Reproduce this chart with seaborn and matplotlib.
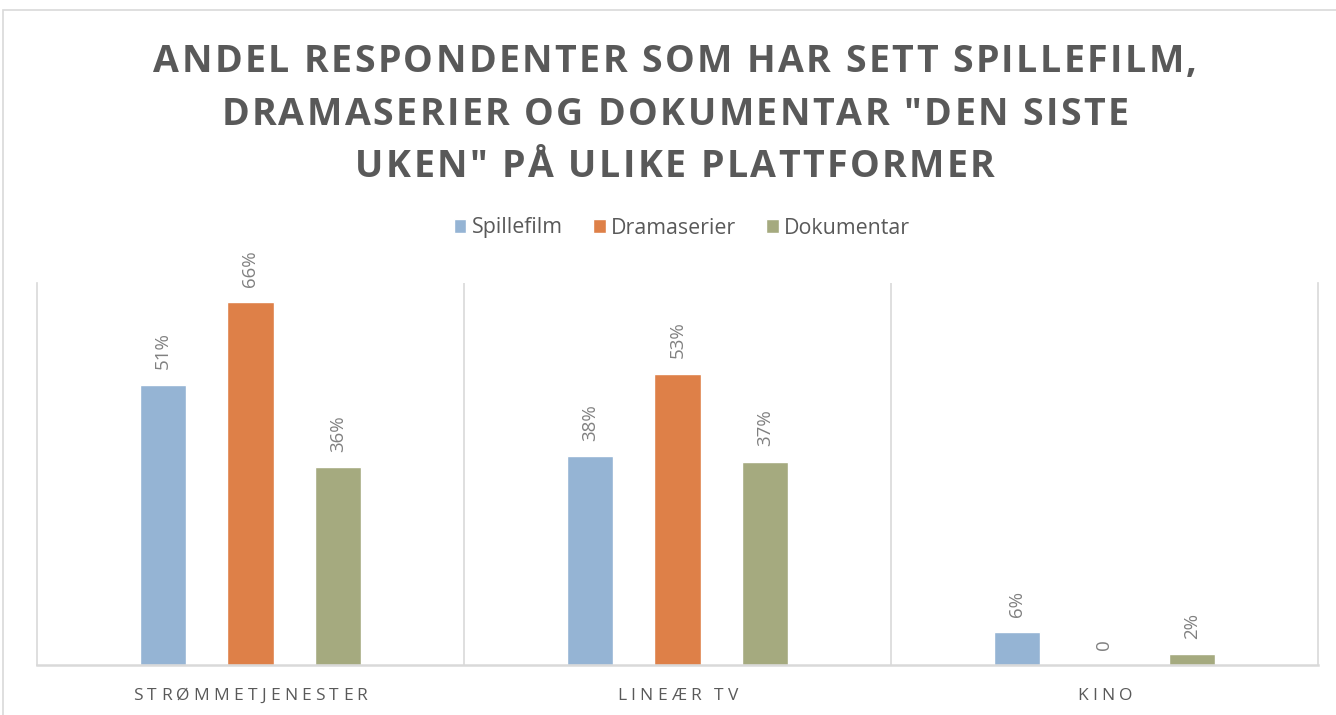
import matplotlib
matplotlib.use("Agg")
import matplotlib.pyplot as plt
import seaborn as sns
import pandas as pd
from matplotlib.patches import Rectangle
from matplotlib.font_manager import FontProperties

platforms = ["STRØMMETJENESTER", "LINEÆR TV", "KINO"]
series = ["Spillefilm", "Dramaserier", "Dokumentar"]
spillefilm = [0.51, 0.38, 0.06]
dramaserier = [0.66, 0.53, 0.0]
dokumentar = [0.36, 0.37, 0.02]
title_lines = ["ANDEL RESPONDENTER SOM HAR SETT SPILLEFILM,",
               "DRAMASERIER OG DOKUMENTAR \"DEN SISTE",
               "UKEN\" PÅ ULIKE PLATTFORMER"]
colors = ["#95B4D4", "#DE8048", "#A5AA7F"]

rows = []
for s, vals in zip(series, [spillefilm, dramaserier, dokumentar]):
    for p, v in zip(platforms, vals):
        rows.append({"platform": p, "serie": s, "value": v})
df = pd.DataFrame(rows)

sns.set_theme(style="white")
FAM = ['Open Sans', 'DejaVu Sans']
plt.rcParams['font.family'] = FAM

W, H = 1336, 715
fig = plt.figure(figsize=(W / 100, H / 100), dpi=100)
ax = fig.add_axes([37/W, 50/H, (1318-37)/W, (665-283)/H])

sns.barplot(data=df, x="platform", y="value", hue="serie", order=platforms,
            hue_order=series, palette=colors, width=0.615, gap=0.47,
            saturation=1, ax=ax, legend=True)

ax.set_ylim(0, 0.695)
ax.set_xlim(-0.5, 2.5)
ax.set_yticks([])
ax.set_xlabel("")
ax.set_ylabel("")
grid_c = "#D9D9D9"
ax.spines["top"].set_visible(False)
for sp in ["left", "right", "bottom"]:
    ax.spines[sp].set_color(grid_c)
    ax.spines[sp].set_linewidth(1.2)
ax.spines["bottom"].set_linewidth(1.8)
for xv in [0.5, 1.5]:
    ax.axvline(xv, color=grid_c, lw=1.2, zorder=0)

ax.set_xticks(range(len(platforms)))
ax.set_xticklabels([])
ax.tick_params(axis="x", length=0)

for cont, vals in zip(ax.containers, [spillefilm, dramaserier, dokumentar]):
    labs = [("0" if v == 0 else f"{round(v*100)}%") for v in vals]
    ax.bar_label(cont, labels=labs, rotation=90, padding=11,
                 color="#808080", fontsize=13.5)

handles, labels = ax.get_legend_handles_labels()
ax.get_legend().remove()
fig.legend(handles, labels, loc="center", bbox_to_anchor=(682/W, 1-228/H),
           ncol=3, frameon=False, fontsize=15.4, handlelength=0.6,
           handleheight=0.6, handletextpad=0.25, columnspacing=1.4,
           labelcolor="#595959")

renderer = fig.canvas.get_renderer()


def spaced_text(text, cx, base_y, size, tracking, weight="normal", color="#595959"):
    prop = FontProperties(family=FAM, size=size, weight=weight)

    def w(s):
        return renderer.get_text_width_height_descent(s, prop, ismath=False)[0]
    ref = w("HH")
    advs = [w("H" + c + "H") - ref for c in text]
    total = sum(advs) + tracking * (len(text) - 1)
    x = cx - total / 2
    for c, a in zip(text, advs):
        if c != " ":
            fig.text((x + a / 2) / W, 1 - base_y / H, c, ha="center",
                     va="baseline", fontproperties=prop, color=color)
        x += a + tracking


for line, y in zip(title_lines, [72, 125, 177]):
    spaced_text(line, 675, y, 27, 2.4, weight="bold")

for i, p in enumerate(platforms):
    cx = ax.transData.transform((i, 0))[0]
    spaced_text(p, cx, 700, 12.5, 4.2)

fig.patches.append(Rectangle((3/W, -0.1), 1.2, 1 - 10/H + 0.1,
                             transform=fig.transFigure, fill=False,
                             edgecolor=grid_c, lw=1.2))

fig.savefig("out.png", dpi=100)
